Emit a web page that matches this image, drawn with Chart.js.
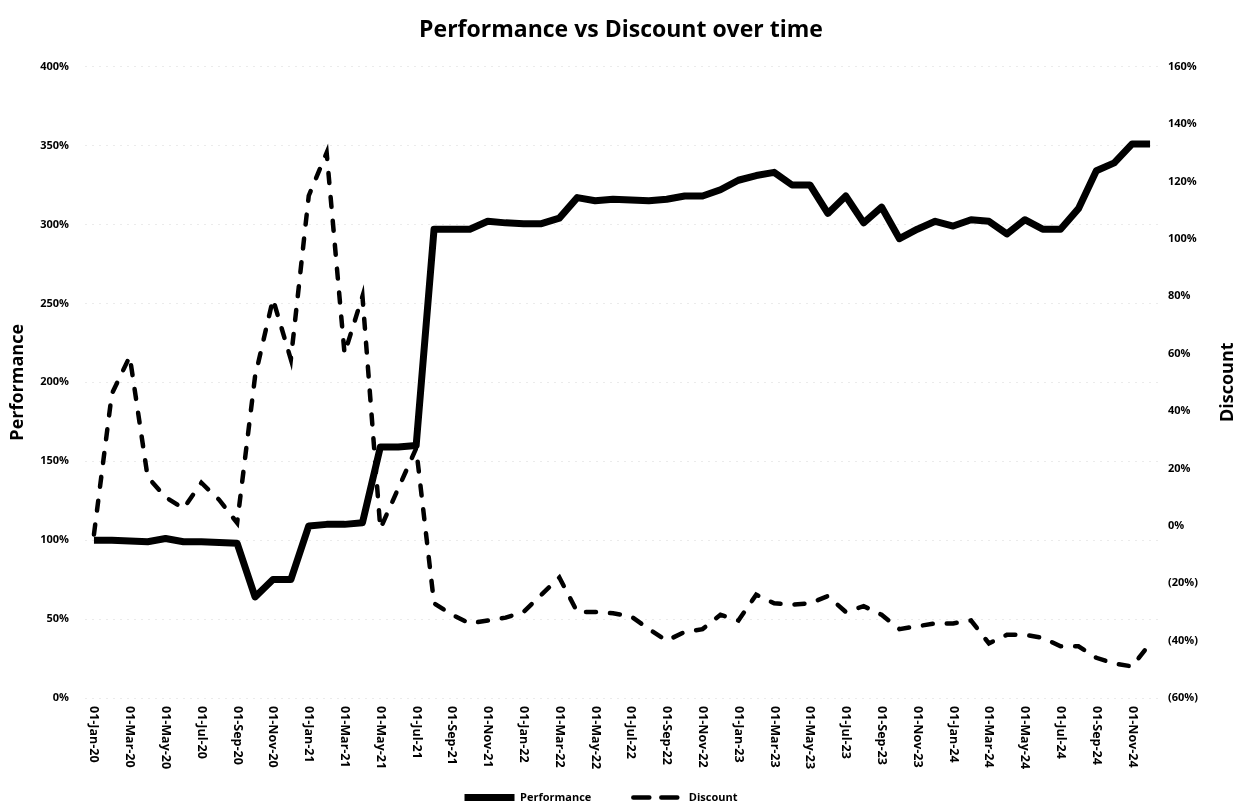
<!DOCTYPE html>
<html>
<head>
<meta charset="utf-8">
<script src="https://cdn.jsdelivr.net/npm/chart.js@4.4.1/dist/chart.umd.min.js"></script>
<style>
  html, body { margin: 0; padding: 0; background: #fff; }
  #wrap { width: 1242px; height: 805px; }
</style>
</head>
<body>
<div id="wrap"><canvas id="lineCanvas" width="1242" height="805"></canvas></div>
<script>
// monthly dates, Jan-20 .. Dec-24
const dates = [
  "01-Jan-20","01-Feb-20","01-Mar-20","01-Apr-20","01-May-20","01-Jun-20","01-Jul-20","01-Aug-20","01-Sep-20","01-Oct-20","01-Nov-20","01-Dec-20",
  "01-Jan-21","01-Feb-21","01-Mar-21","01-Apr-21","01-May-21","01-Jun-21","01-Jul-21","01-Aug-21","01-Sep-21","01-Oct-21","01-Nov-21","01-Dec-21",
  "01-Jan-22","01-Feb-22","01-Mar-22","01-Apr-22","01-May-22","01-Jun-22","01-Jul-22","01-Aug-22","01-Sep-22","01-Oct-22","01-Nov-22","01-Dec-22",
  "01-Jan-23","01-Feb-23","01-Mar-23","01-Apr-23","01-May-23","01-Jun-23","01-Jul-23","01-Aug-23","01-Sep-23","01-Oct-23","01-Nov-23","01-Dec-23",
  "01-Jan-24","01-Feb-24","01-Mar-24","01-Apr-24","01-May-24","01-Jun-24","01-Jul-24","01-Aug-24","01-Sep-24","01-Oct-24","01-Nov-24","01-Dec-24"
];

// performance in %, left axis
const performance = [
  100, 100, 99.5, 99, 101, 99, 99, 98.5, 98, 64, 75, 75,
  109, 110, 110, 111, 159, 159, 160, 297, 297, 297, 302, 301,
  300.5, 300.5, 304, 317, 315, 316, 315.5, 315, 316, 318, 318, 322,
  328, 331, 333, 325, 325, 307, 318, 301, 311, 291, 297, 302,
  299, 303, 302, 294, 303, 297, 297, 310, 334, 339, 351, 351
];

// discount in %, right axis
const discount = [
  -3, 46, 59, 17, 10, 6, 15, 9, 1, 52, 79, 58,
  115, 130, 60, 80, -1, 13, 27, -27, -31, -34, -33, -32,
  -30, -24, -18, -30, -30, -30.5, -31.5, -36, -40, -37, -36, -31,
  -33, -24, -27, -27.5, -27, -24.5, -30, -28, -31, -36, -35, -34,
  -34, -33, -41, -38, -38, -39, -42, -42, -46, -48, -49, -41
];

const perfTicks = { min: 0, max: 400, step: 50 };
const discTicks = { min: -60, max: 160, step: 20 };

const FONT = "'Open Sans', 'Liberation Sans', sans-serif";

// x labels read top to bottom, and the Discount title bottom to top
const extraText = {
  id: "extraText",
  afterDraw(chart) {
    const ctx = chart.ctx;
    const xs = chart.scales.x;
    const area = chart.chartArea;
    ctx.save();
    ctx.fillStyle = "#000";
    ctx.font = "bold 12.5px " + FONT;
    ctx.textAlign = "left";
    ctx.textBaseline = "middle";
    for (let i = 0; i < dates.length; i += 2) {
      const x = xs.getPixelForValue(i);
      ctx.save();
      ctx.translate(x, area.bottom + 8);
      ctx.rotate(Math.PI / 2);
      ctx.fillText(dates[i], 0, 0);
      ctx.restore();
    }
    ctx.font = "bold 18px " + FONT;
    ctx.textAlign = "center";
    ctx.translate(1228, (area.top + area.bottom) / 2);
    ctx.rotate(-Math.PI / 2);
    ctx.fillText("Discount", 0, 0);
    ctx.restore();
  }
};

const lineCanvas = document.getElementById("lineCanvas");
const lineChart = new Chart(lineCanvas, {
  type: "line",
  data: {
    labels: dates,
    datasets: [
      {
        label: "Performance",
        data: performance,
        yAxisID: "y",
        borderColor: "#000",
        backgroundColor: "#000",
        borderWidth: 7,
        borderJoinStyle: "round",
        pointRadius: 0,
        tension: 0
      },
      {
        label: "Discount",
        data: discount,
        yAxisID: "y1",
        borderColor: "#000",
        backgroundColor: "#000",
        borderWidth: 4.5,
        borderDash: [10, 14],
        borderCapStyle: "round",
        pointRadius: 0,
        tension: 0
      }
    ]
  },
  options: {
    responsive: false,
    animation: false,
    layout: { padding: { top: 0, left: 0, right: 0, bottom: -8 } },
    plugins: {
      title: {
        display: true,
        text: "Performance vs Discount over time",
        color: "#000",
        font: { family: FONT, size: 23, weight: "bold" },
        padding: { top: 17, bottom: 22 }
      },
      legend: {
        position: "bottom",
        labels: {
          usePointStyle: true,
          pointStyle: "line",
          pointStyleWidth: 50,
          boxWidth: 50,
          boxHeight: 12,
          padding: 2,
          color: "#000",
          font: { family: FONT, size: 11, weight: "bold" },
          generateLabels(chart) {
            const items = Chart.defaults.plugins.legend.labels.generateLabels(chart);
            items.forEach(it => {
              const ds = chart.data.datasets[it.datasetIndex];
              it.lineWidth = ds.borderWidth;
              it.lineDash = ds.borderDash ? [16, 12] : [];
              it.lineCap = ds.borderCapStyle || "butt";
              it.strokeStyle = "#000";
              // keep a gap between the two entries, as in the original
              it.text = it.text + "              ";
            });
            return items;
          }
        }
      },
      tooltip: { enabled: false }
    },
    scales: {
      x: {
        offset: true,
        grid: { display: false },
        border: { display: false },
        ticks: { display: false },
        afterFit(scale) { scale.height = 92; }
      },
      y: {
        position: "left",
        min: perfTicks.min,
        max: perfTicks.max,
        ticks: {
          stepSize: perfTicks.step,
          padding: 16,
          color: "#000",
          font: { family: FONT, size: 11, weight: "bold" },
          callback: v => v + "%"
        },
        grid: { color: "rgba(0,0,0,0.08)", drawTicks: false },
        border: { display: false, dash: [2, 5] },
        title: {
          display: true,
          text: "Performance",
          color: "#000",
          font: { family: FONT, size: 18, weight: "bold" },
          padding: { top: 7, bottom: 0 }
        },
        afterFit(scale) { scale.width = 85; }
      },
      y1: {
        position: "right",
        min: discTicks.min,
        max: discTicks.max,
        ticks: {
          stepSize: discTicks.step,
          padding: 9,
          color: "#000",
          font: { family: FONT, size: 11, weight: "bold" },
          callback: v => v < 0 ? "(" + (-v) + "%)" : v + "%"
        },
        grid: { display: false, drawTicks: false },
        border: { display: false },
        afterFit(scale) { scale.width = 83; }
      }
    }
  },
  plugins: [extraText]
});
</script>
</body>
</html>
